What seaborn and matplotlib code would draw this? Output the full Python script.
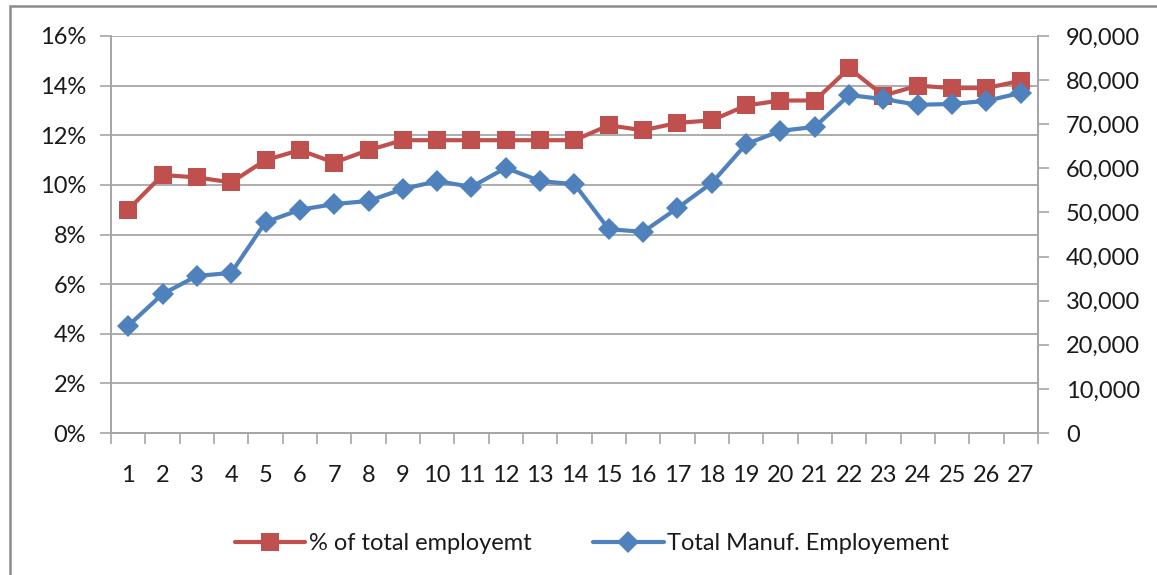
import matplotlib
matplotlib.use("Agg")
import matplotlib.pyplot as plt
import matplotlib.ticker as mticker
from matplotlib.patches import Rectangle
import seaborn as sns
import pandas as pd

# data
periods = list(range(1, 28))
pct_total = [9.0, 10.4, 10.3, 10.1, 11.0, 11.4, 10.9, 11.4, 11.8, 11.8,
             11.8, 11.8, 11.8, 11.8, 12.4, 12.2, 12.5, 12.6, 13.2, 13.4,
             13.4, 14.7, 13.6, 14.0, 13.9, 13.9, 14.2]
manuf_emp = [24300, 31500, 35600, 36300, 47800, 50600, 51900, 52600, 55300, 57100,
             55800, 60100, 57100, 56400, 46200, 45600, 51000, 56700, 65500, 68500,
             69400, 76600, 75700, 74400, 74600, 75300, 77100]

df = pd.DataFrame({"pos": range(len(periods)), "pct": pct_total, "emp": manuf_emp})

sns.set_theme(style="white")
plt.rcParams["font.family"] = ["Lato", "DejaVu Sans"]

RED = "#C0504D"
BLUE = "#4F81BD"
GRID = "#A6A6A6"
TXT = "#1a1a1a"
FS = 17

fig = plt.figure(figsize=(11.57, 5.75), dpi=100)
ax = fig.add_axes([111 / 1157, 1 - 433 / 575, (1038 - 111) / 1157, (433 - 36) / 575])
ax2 = ax.twinx()

sns.lineplot(data=df, x="pos", y="pct", ax=ax, color=RED, lw=3, marker="s",
             markersize=13, markeredgewidth=0, label="% of total employemt", legend=False)
sns.lineplot(data=df, x="pos", y="emp", ax=ax2, color=BLUE, lw=3, marker="D",
             markersize=11, markeredgewidth=0, label="Total Manuf. Employement", legend=False)

ax.set_xlim(-0.5, len(periods) - 0.5)
ax.set_ylim(0, 16)
ax2.set_ylim(0, 90000)
ax.set_yticks(range(0, 17, 2))
ax.yaxis.set_major_formatter(mticker.FuncFormatter(lambda v, p: f"{v:.0f}%"))
ax2.set_yticks(range(0, 90001, 10000))
ax2.yaxis.set_major_formatter(mticker.FuncFormatter(lambda v, p: f"{v:,.0f}"))

ax.set_xticks(range(len(periods)))
ax.set_xticklabels([str(p) for p in periods])
ax.set_xticks([i - 0.5 for i in range(len(periods) + 1)], minor=True)
ax.tick_params(axis="x", which="major", length=0, pad=23, labelsize=FS, labelcolor=TXT)
ax.tick_params(axis="x", which="minor", length=8, width=1.2, color=GRID, direction="out", bottom=True)
ax.tick_params(axis="y", length=8, width=1.2, color=GRID, direction="out", left=True,
               labelsize=FS, labelcolor=TXT, pad=10)
ax2.tick_params(axis="y", length=8, width=1.2, color=GRID, direction="out", right=True,
                labelsize=FS, labelcolor=TXT, pad=12)

ax.set_xlabel("")
ax.set_ylabel("")
ax2.set_ylabel("")
ax.grid(axis="y", color=GRID, lw=1.3)
ax.set_axisbelow(True)

for a in (ax, ax2):
    for side in ("left", "right", "bottom"):
        a.spines[side].set_color(GRID)
        a.spines[side].set_linewidth(1.3)
    a.spines["top"].set_visible(False)

h1, l1 = ax.get_legend_handles_labels()
h2, l2 = ax2.get_legend_handles_labels()
fig.legend(h1 + h2, l1 + l2, loc="center", bbox_to_anchor=(592 / 1157, 1 - 544 / 575),
           ncol=2, frameon=False, fontsize=FS, handlelength=3.0, columnspacing=2.6,
           handletextpad=0.15, labelcolor=TXT)

# outer chart frame (cropped on the right and bottom)
fig.patches.append(Rectangle((10 / 1157, -0.1), 1.2, 1.1 - 6 / 575, transform=fig.transFigure,
                             fill=False, edgecolor="#8C8C8C", lw=1.8, zorder=0))

fig.savefig("out.png", dpi=100)
